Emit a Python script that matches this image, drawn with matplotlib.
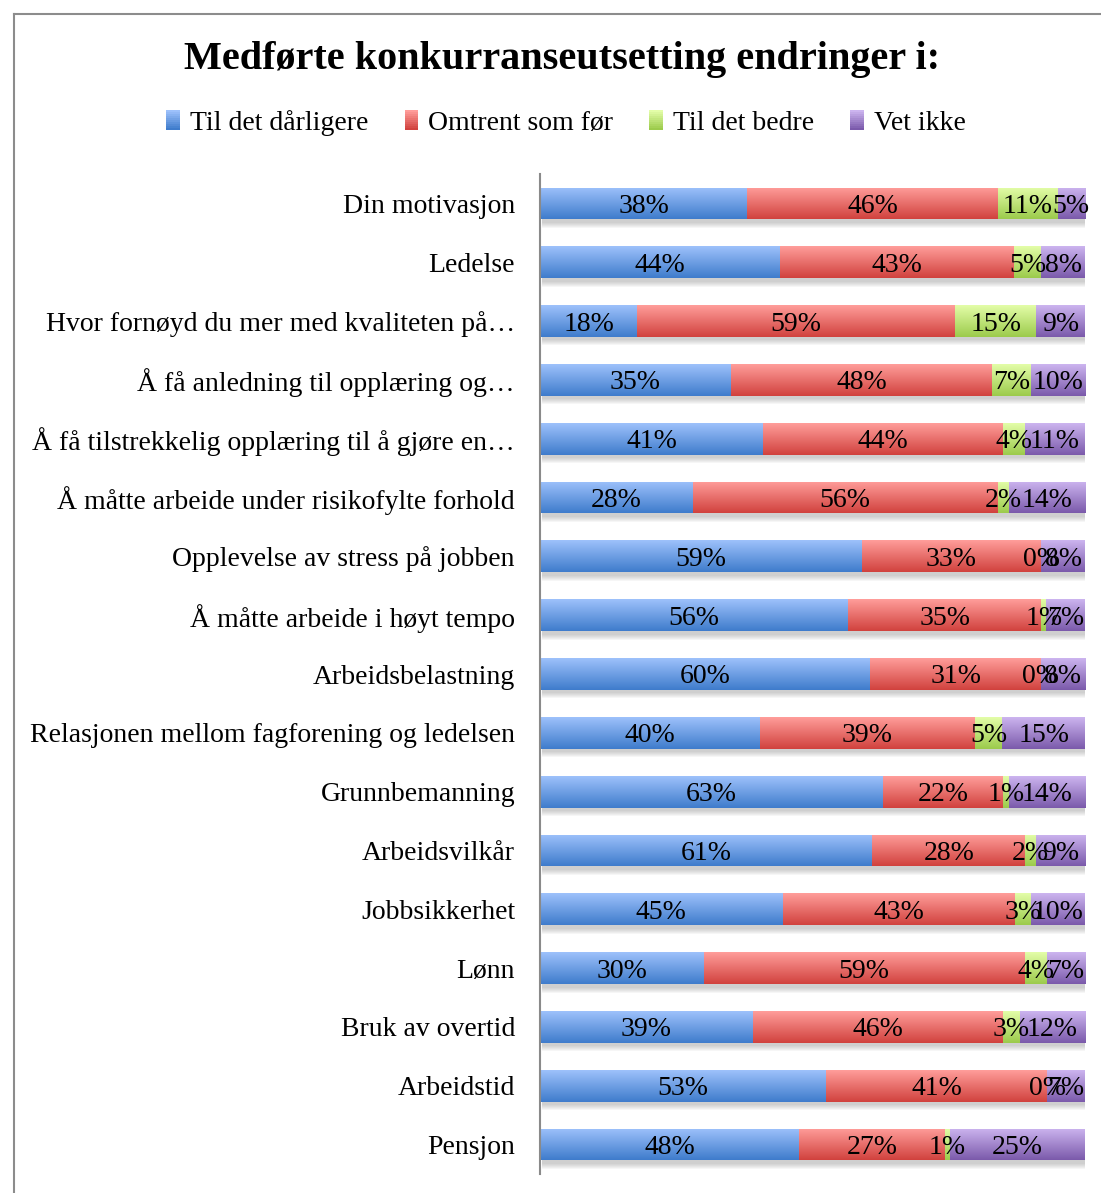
import numpy as np
import matplotlib.pyplot as plt
from matplotlib.colors import to_rgb
from matplotlib.patches import Rectangle
from matplotlib.lines import Line2D
from matplotlib.legend_handler import HandlerBase

plt.rcParams['font.family'] = ['Liberation Serif', 'DejaVu Serif']

# Survey answers per topic (percent)
categories = [
    "Din motivasjon",
    "Ledelse",
    "Hvor fornøyd du mer med kvaliteten på…",
    "Å få anledning til opplæring og…",
    "Å få tilstrekkelig opplæring til å gjøre en…",
    "Å måtte arbeide under risikofylte forhold",
    "Opplevelse av stress på jobben",
    "Å måtte arbeide i høyt tempo",
    "Arbeidsbelastning",
    "Relasjonen mellom fagforening og ledelsen",
    "Grunnbemanning",
    "Arbeidsvilkår",
    "Jobbsikkerhet",
    "Lønn",
    "Bruk av overtid",
    "Arbeidstid",
    "Pensjon",
]
til_det_darligere = [38, 44, 18, 35, 41, 28, 59, 56, 60, 40, 63, 61, 45, 30, 39, 53, 48]
omtrent_som_for = [46, 43, 59, 48, 44, 56, 33, 35, 31, 39, 22, 28, 43, 59, 46, 41, 27]
til_det_bedre = [11, 5, 15, 7, 4, 2, 0, 1, 0, 5, 1, 2, 3, 4, 3, 0, 1]
vet_ikke = [5, 8, 9, 10, 11, 14, 8, 7, 8, 15, 14, 9, 10, 7, 12, 7, 25]

series_names = ["Til det dårligere", "Omtrent som før", "Til det bedre", "Vet ikke"]

# (top, bottom) colours of the vertical gradient on each series
gradients = [
    ("#9dc1fb", "#3f7ccc"),
    ("#ff9d9a", "#d1423e"),
    ("#e3fda8", "#9ccb4c"),
    ("#ccb4ef", "#7b5aab"),
]

W, H = 1101, 1193
fig = plt.figure(figsize=(W / 100, H / 100), dpi=100)
ax = fig.add_axes([540 / W, 19 / H, 545 / W, 1000 / H])

n = len(categories)
ypos = np.arange(n)[::-1]
data = np.array([til_det_darligere, omtrent_som_for, til_det_bedre, vet_ikke], dtype=float)
shares = data / data.sum(axis=0)
bar_h = 0.54

# soft drop shadow under each bar
for i in range(6):
    ax.barh(ypos - 0.06 - 0.012 * i, shares.sum(axis=0), left=0.004,
            height=bar_h + 0.01 * i, color='#555555', alpha=0.05,
            edgecolor='none', zorder=1)

t = np.linspace(0, 1, 64)[:, None]
left = np.zeros(n)
for vals, raw, (top, bottom) in zip(shares, data, gradients):
    top_c, bot_c = np.array(to_rgb(top)), np.array(to_rgb(bottom))
    img = (bot_c * (1 - t) + top_c * t)[:, None, :]
    bars = ax.barh(ypos, vals, left=left, height=bar_h, color='white',
                   edgecolor='none', zorder=2)
    for rect in bars:
        x0, y0 = rect.get_x(), rect.get_y()
        im = ax.imshow(img, extent=(x0, x0 + rect.get_width(), y0, y0 + bar_h),
                       origin='lower', aspect='auto', interpolation='bilinear', zorder=3)
        im.set_clip_path(rect)
    for y, l, v, r in zip(ypos, left, vals, raw):
        ax.text(l + v / 2, y - 0.05, f"{r:.0f}%", ha='center', va='center',
                fontsize=20, color='black', zorder=5)
    left += vals

ax.set_xlim(0, 1)
ax.set_ylim(-0.5, n - 0.5)
ax.set_yticks(ypos)
ax.set_yticklabels(categories, fontsize=20)
ax.set_xticks([])
ax.tick_params(axis='y', length=0, pad=18)
for s in ['top', 'right', 'bottom']:
    ax.spines[s].set_visible(False)
ax.spines['left'].set_color('#8a8a8a')
ax.spines['left'].set_linewidth(1.5)
ax.spines['left'].set_zorder(6)


class GradientHandler(HandlerBase):
    def __init__(self, top, bottom):
        super().__init__()
        self.top = np.array(to_rgb(top))
        self.bottom = np.array(to_rgb(bottom))

    def create_artists(self, legend, orig_handle, xdescent, ydescent,
                       width, height, fontsize, trans):
        steps = 10
        out = []
        for i in range(steps):
            f = i / (steps - 1)
            out.append(Rectangle((-xdescent, -ydescent + height * i / steps),
                                 width, height / steps + 0.2,
                                 facecolor=self.bottom * (1 - f) + self.top * f,
                                 edgecolor='none', transform=trans))
        return out


handles = [Rectangle((0, 0), 1, 1) for _ in series_names]
hmap = {h: GradientHandler(*g) for h, g in zip(handles, gradients)}
fig.legend(handles, series_names, handler_map=hmap, loc='center',
           bbox_to_anchor=(566 / W, 1 - 123 / H), ncol=4, frameon=False,
           fontsize=20, handlelength=0.5, handleheight=0.75,
           handletextpad=0.35, columnspacing=1.3)

fig.text(562 / W, 1 - 60 / H, "Medførte konkurranseutsetting endringer i:",
         ha='center', va='center', fontsize=29, fontweight='bold')

# chart area frame
fig.add_artist(Line2D([14 / W, 14 / W], [0, 1 - 14 / H], transform=fig.transFigure,
                      color='#8c8c8c', lw=1.5))
fig.add_artist(Line2D([14 / W, 1], [1 - 14 / H, 1 - 14 / H], transform=fig.transFigure,
                      color='#8c8c8c', lw=1.5))

fig.savefig('out.png', dpi=100, facecolor='white')
